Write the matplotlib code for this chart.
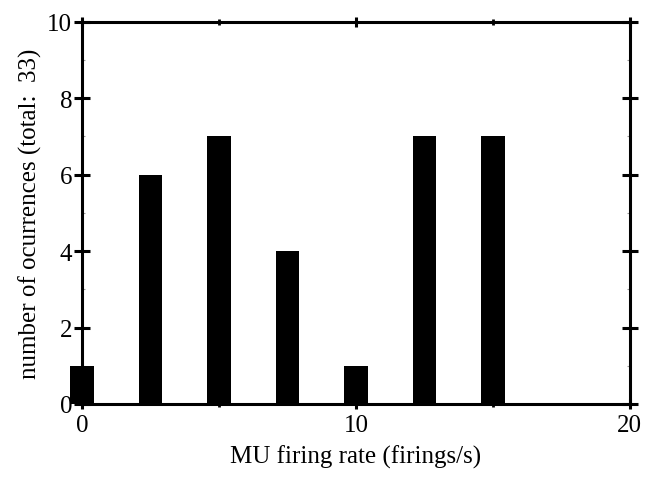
import matplotlib
matplotlib.use("Agg")
import matplotlib.pyplot as plt
from matplotlib.ticker import MultipleLocator

rates = [0, 2.5, 5, 7.5, 10, 12.5, 15]
counts = [1, 6, 7, 4, 1, 7, 7]
xticks = [0, 10, 20]
yticks = [0, 2, 4, 6, 8, 10]

plt.rcParams['font.family'] = ['Liberation Serif', 'DejaVu Serif']

fig = plt.figure(figsize=(6.46, 4.85), dpi=100)
ax = fig.add_axes([0.127, 0.165, 0.848, 0.788])
bars = ax.bar(rates, counts, width=0.85, color='black', zorder=3)
for b in bars:
    b.set_clip_on(False)
ax.set_xlim(0, 20)
ax.set_ylim(0, 10)
ax.set_xticks(xticks)
ax.set_yticks(yticks)
ax.xaxis.set_minor_locator(MultipleLocator(5))
ax.yaxis.set_minor_locator(MultipleLocator(1))
for s in ax.spines.values():
    s.set_linewidth(2.2)
ax.tick_params(axis='x', which='major', direction='inout', length=7, width=2.2,
               top=True, labelsize=18, pad=4)
ax.tick_params(axis='y', which='major', direction='inout', length=12, width=2.2,
               right=True, labelsize=18, pad=1)
ax.tick_params(axis='x', which='minor', direction='inout', length=5, width=2,
               top=True)
ax.tick_params(axis='y', which='minor', direction='in', length=2, width=0.8,
               right=True, color='0.6')
ax.set_xlabel('MU firing rate (firings/s)', fontsize=18, labelpad=6)
ax.set_ylabel('number of ocurrences (total:  33)', fontsize=18, labelpad=4)
fig.savefig('out.png', dpi=100)
